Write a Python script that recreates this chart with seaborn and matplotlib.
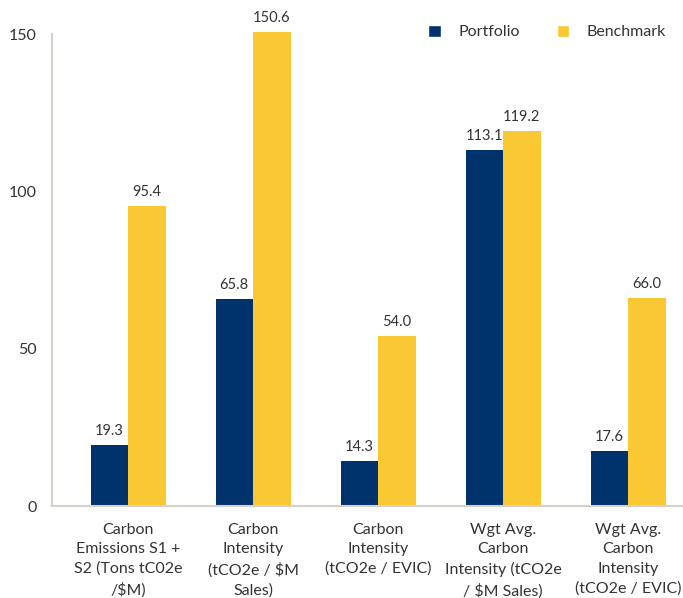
import matplotlib
matplotlib.use("Agg")
import matplotlib.pyplot as plt
import seaborn as sns
import pandas as pd

categories = [
    "Carbon\nEmissions S1 +\nS2 (Tons tC02e\n/$M)",
    "Carbon\nIntensity\n(tCO2e / $M\nSales)",
    "Carbon\nIntensity\n(tCO2e / EVIC)",
    "Wgt Avg.\nCarbon\nIntensity (tCO2e\n/ $M Sales)",
    "Wgt Avg.\nCarbon\nIntensity\n(tCO2e / EVIC)",
]
portfolio = [19.3, 65.8, 14.3, 113.1, 17.6]
benchmark = [95.4, 150.6, 54.0, 119.2, 66.0]
series_names = ["Portfolio", "Benchmark"]
yticks = [0, 50, 100, 150]

df = pd.DataFrame({
    "category": categories * 2,
    "series": [series_names[0]] * len(categories) + [series_names[1]] * len(categories),
    "value": portfolio + benchmark,
})

sns.set_theme(style="white")
plt.rcParams["font.family"] = ["Lato", "DejaVu Sans"]

navy = "#00336B"
yellow = "#FAC832"
spine_col = "#D6D0C8"
text_col = "#333333"

fig = plt.figure(figsize=(6.83, 5.98), dpi=100)
ax = fig.add_axes([52 / 683, 1 - 506 / 598, 1 - 52 / 683, (506 - 34) / 598])

sns.barplot(data=df, x="category", y="value", hue="series",
            palette=[navy, yellow], width=0.6, saturation=1,
            ax=ax, legend=True)

for container in ax.containers:
    for bar in container:
        bar.set_clip_on(False)
        bar.set_linewidth(0)
    labels = ax.bar_label(container, fmt="%.1f", padding=5, fontsize=10.5, color=text_col)
    for lbl in labels:
        lbl.set_clip_on(False)
        lbl.set_annotation_clip(False)

ax.set_ylim(0, 150)
ax.set_xlim(-0.608, 4.44)
ax.set_yticks(yticks)
ax.set_yticklabels([str(t) for t in yticks])
ax.set_xlabel("")
ax.set_ylabel("")
ax.tick_params(axis="y", length=0, pad=11, labelsize=11.5, labelcolor=text_col)
ax.tick_params(axis="x", length=0, pad=12, labelsize=11.5, labelcolor=text_col)
for lbl in ax.get_xticklabels():
    lbl.set_linespacing(1.5)

for s in ["top", "right"]:
    ax.spines[s].set_visible(False)
for s in ["left", "bottom"]:
    ax.spines[s].set_color(spine_col)
    ax.spines[s].set_linewidth(1.5)

leg = ax.legend(loc="upper right", bbox_to_anchor=(0.996, 1.05), ncol=2,
                frameon=False, fontsize=11.5, handlelength=0.8, handleheight=0.8,
                columnspacing=2.3, handletextpad=1.1)
for t in leg.get_texts():
    t.set_color(text_col)

fig.savefig("out.png", dpi=100)
